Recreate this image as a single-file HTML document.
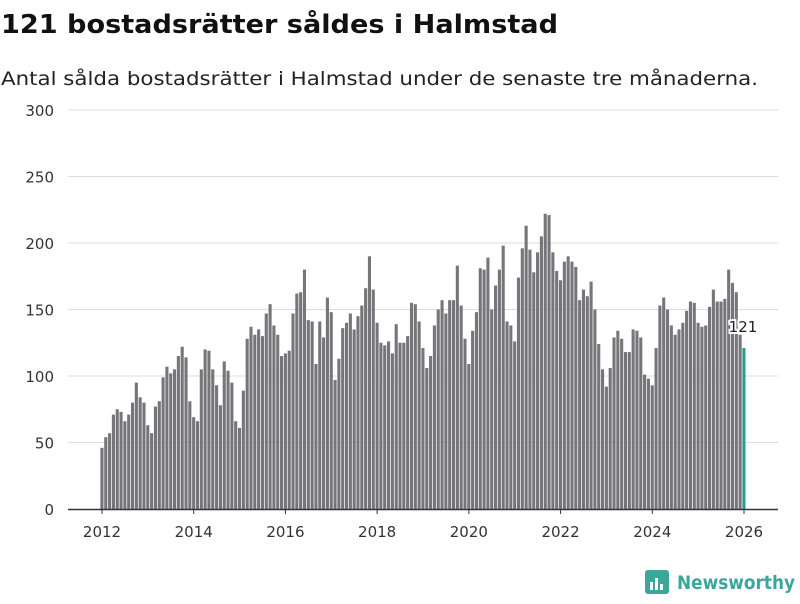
<!DOCTYPE html>
<html><head><meta charset="utf-8">
<style>
body{margin:0;width:800px;height:600px;background:#fff;font-family:"DejaVu Sans","Liberation Sans",sans-serif;overflow:hidden}
</style></head>
<body>
<svg width="800" height="600" xmlns="http://www.w3.org/2000/svg">
<text x="1" y="33" font-size="26" font-weight="bold" fill="#111" textLength="557" lengthAdjust="spacingAndGlyphs">121 bostadsrätter såldes i Halmstad</text>
<text x="1" y="85" font-size="19" fill="#222" textLength="757" lengthAdjust="spacingAndGlyphs">Antal sålda bostadsrätter i Halmstad under de senaste tre månaderna.</text>
<g id="grid"></g>
<g id="bars"></g>
<g id="xaxis"></g>
<g>
<rect x="645" y="570" width="24" height="24" rx="3" fill="#3aa79a"/>
<rect x="650" y="582" width="3" height="8" fill="#fff"/><rect x="655" y="578" width="3" height="12" fill="#fff"/><rect x="660" y="584" width="3" height="6" fill="#fff"/>
<text x="677" y="589" font-size="19" font-weight="bold" fill="#3aa79a" textLength="118" lengthAdjust="spacingAndGlyphs">Newsworthy</text>
</g>
</svg>
<script>
const years=[2012,2013,2014,2015,2016,2017,2018,2019,2020,2021,2022,2023,2024,2025,2026];
const values=[46,54,57,71,75,73,66,71,80,95,84,80,
63,57,77,81,99,107,102,105,115,122,114,81,
69,66,105,120,119,105,93,78,111,104,95,66,
61,89,128,137,131,135,130,147,154,138,131,115,
117,119,147,162,163,180,142,141,109,141,129,159,
148,97,113,136,140,147,135,145,153,166,190,165,
140,125,123,126,117,139,125,125,130,155,154,141,
121,106,115,138,150,157,147,157,157,183,153,128,
109,134,148,181,180,189,150,168,180,198,141,138,
126,174,196,213,195,178,193,205,222,221,193,179,
172,186,190,186,182,157,165,160,171,150,124,105,
92,106,129,134,128,118,118,135,134,129,101,98,
93,121,153,159,150,138,131,135,140,149,156,155,
140,137,138,152,165,156,156,158,180,170,163,131,
121];
const yTicks=[0,50,100,150,200,250,300];
const xTickYears=[2012,2014,2016,2018,2020,2022,2024,2026];
const NS="http://www.w3.org/2000/svg";
const y=v=>509-v*(399/300);
const x=i=>102+i*(642/168);
const xYear=yr=>102+(yr-2012)*(642/14);
function mk(t,a,p){const e=document.createElementNS(NS,t);for(const k in a)e.setAttribute(k,a[k]);p.appendChild(e);return e;}
const grid=document.getElementById('grid');
yTicks.forEach(t=>{
 if(t>0){const l=mk('line',{x1:68,x2:778,y1:y(t),y2:y(t),stroke:'#ddd','stroke-width':1},grid);
 
 }
 const tx=mk('text',{x:54,y:y(t)+6,'text-anchor':'end','font-size':15,fill:'#333'},grid);
 tx.textContent=t;
 
 
});
const bars=document.getElementById('bars');
values.forEach((v,i)=>{
 const last=i===values.length-1;
 const r=mk('rect',{x:x(i)-1.6,y:y(v),width:3.1,height:509-y(v),fill:last?'#2a9d8f':'#76757a'},bars);
 
 
});
const li=values.length-1;
const lab=mk('text',{x:x(li)-1,y:y(values[li])-16,'text-anchor':'middle','font-size':15,fill:'#222',stroke:'#fff','stroke-width':4,'paint-order':'stroke'},bars);
lab.textContent=values[li];


const xa=document.getElementById('xaxis');
mk('line',{x1:68,x2:778,y1:509.5,y2:509.5,stroke:'#333','stroke-width':1.5},xa);
xTickYears.forEach(yr=>{
 mk('line',{x1:xYear(yr),x2:xYear(yr),y1:509,y2:514,stroke:'#333'},xa);
 const t=mk('text',{x:xYear(yr),y:537,'text-anchor':'middle','font-size':15,fill:'#333'},xa);
 t.textContent=yr;
 
 
});
</script>
</body></html>
